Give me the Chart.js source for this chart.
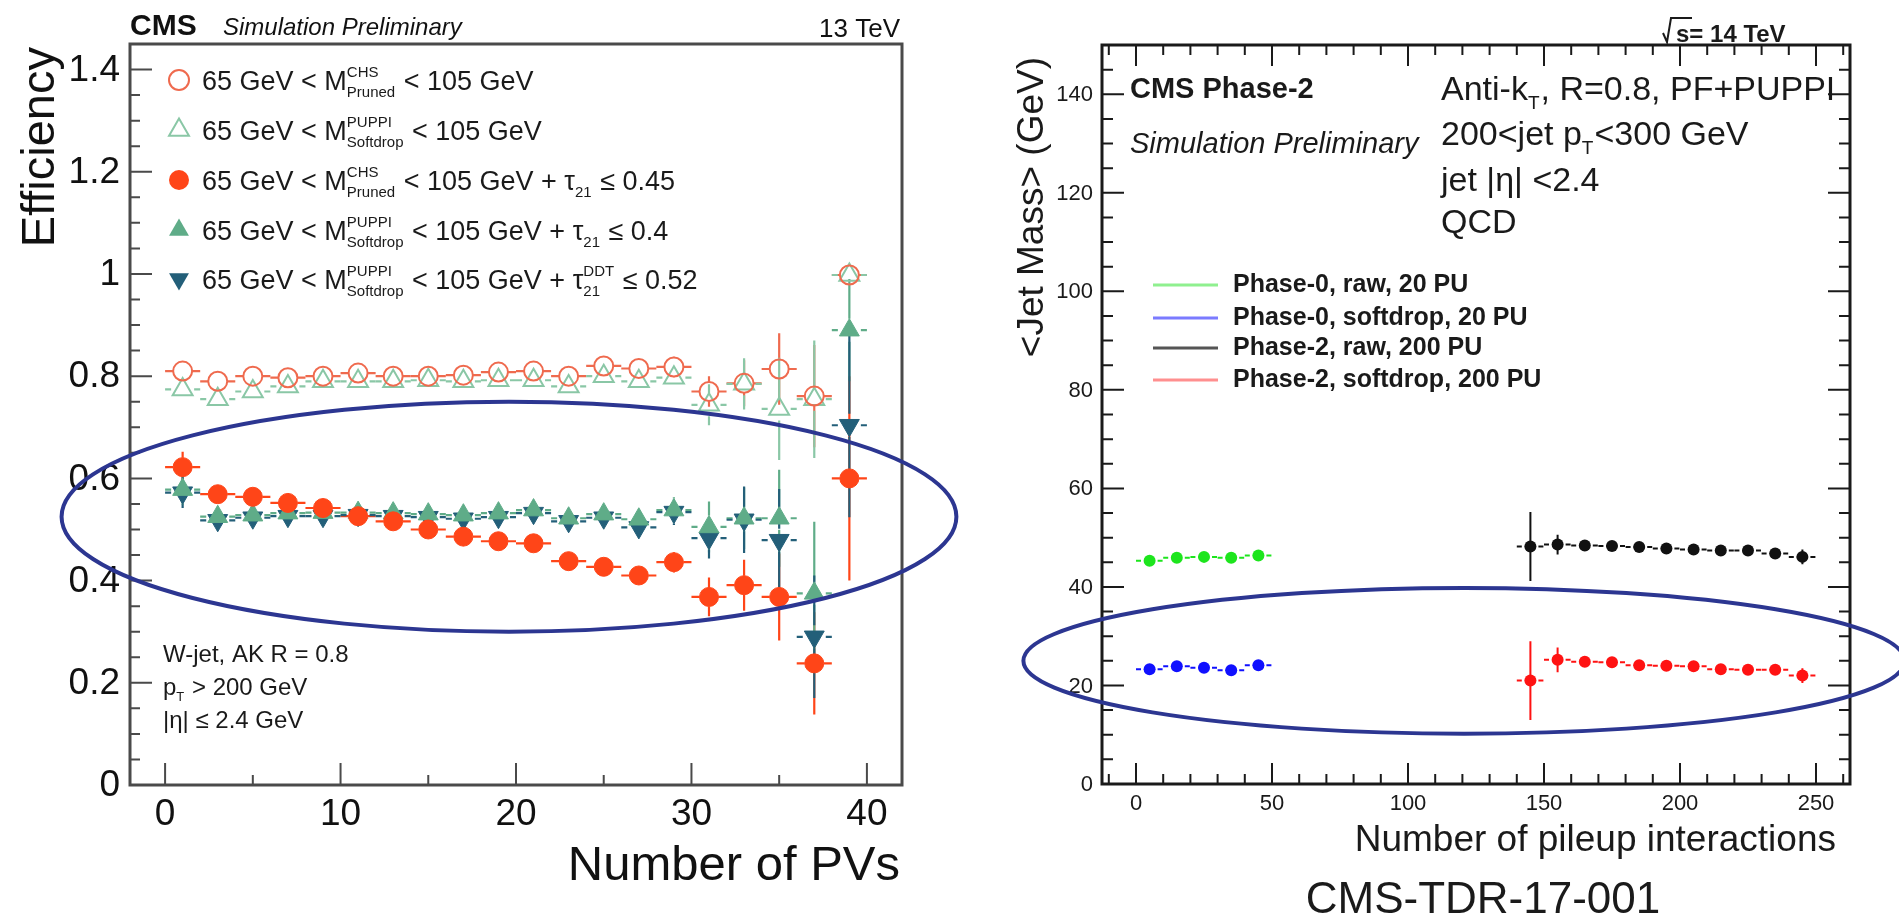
<!DOCTYPE html>
<html lang="en">
<head>
<meta charset="UTF-8">
<title>W-tagging efficiency and jet mass vs pileup</title>
<script src="https://cdn.jsdelivr.net/npm/chart.js"></script>
<style>
  body { margin: 0; background: #fff; width: 1899px; height: 919px; overflow: hidden; position: relative; }
  #effChart { position: absolute; left: 0; top: 0; }
  #massChart { position: absolute; left: 950px; top: 0; }
</style>
</head>
<body>
<canvas id="effChart" width="980" height="919"></canvas>
<canvas id="massChart" width="949" height="919"></canvas>
<script>
const FONT = '"Liberation Sans", Arial, Helvetica, sans-serif';

// ---- left panel: efficiency vs number of PVs ----
const pvBins = [1, 3, 5, 7, 9, 11, 13, 15, 17, 19, 21, 23, 25, 27, 29, 31, 33, 35, 37, 39];
const pvHalfWidth = 1;

const effPruned       = [0.810, 0.790, 0.800, 0.797, 0.800, 0.806, 0.800, 0.800, 0.802, 0.808, 0.810, 0.800, 0.820, 0.815, 0.818, 0.770, 0.786, 0.814, 0.761, 0.998];
const effPrunedErr    = [0.015, 0.010, 0.010, 0.010, 0.010, 0.010, 0.010, 0.010, 0.010, 0.010, 0.012, 0.012, 0.015, 0.015, 0.020, 0.030, 0.045, 0.070, 0.100, 0.000];
const effSoftdrop     = [0.774, 0.755, 0.770, 0.780, 0.790, 0.790, 0.790, 0.792, 0.790, 0.792, 0.792, 0.780, 0.800, 0.790, 0.797, 0.744, 0.785, 0.736, 0.755, 0.998];
const effSoftdropErr  = [0.015, 0.010, 0.010, 0.010, 0.010, 0.010, 0.010, 0.010, 0.010, 0.010, 0.010, 0.012, 0.012, 0.015, 0.020, 0.040, 0.050, 0.100, 0.115, 0.000];
const effPrunedTau    = [0.622, 0.569, 0.564, 0.552, 0.542, 0.526, 0.516, 0.500, 0.486, 0.477, 0.473, 0.438, 0.427, 0.410, 0.436, 0.368, 0.391, 0.368, 0.238, 0.600];
const effPrunedTauErr = [0.030, 0.010, 0.010, 0.010, 0.010, 0.010, 0.010, 0.010, 0.010, 0.012, 0.012, 0.012, 0.012, 0.015, 0.020, 0.038, 0.050, 0.085, 0.100, 0.200];
const effSoftTau      = [0.578, 0.525, 0.528, 0.532, 0.533, 0.533, 0.532, 0.530, 0.528, 0.532, 0.538, 0.522, 0.530, 0.520, 0.538, 0.505, 0.522, 0.522, 0.375, 0.890];
const effSoftTauErr   = [0.030, 0.010, 0.010, 0.010, 0.010, 0.010, 0.010, 0.010, 0.010, 0.012, 0.012, 0.012, 0.015, 0.015, 0.025, 0.050, 0.060, 0.095, 0.140, 0.100];
const effSoftDDT      = [0.572, 0.518, 0.523, 0.526, 0.526, 0.528, 0.526, 0.524, 0.521, 0.524, 0.532, 0.516, 0.523, 0.504, 0.534, 0.483, 0.519, 0.479, 0.290, 0.704];
const effSoftDDTErr   = [0.030, 0.010, 0.010, 0.010, 0.010, 0.010, 0.010, 0.010, 0.010, 0.012, 0.012, 0.012, 0.015, 0.015, 0.025, 0.040, 0.065, 0.100, 0.120, 0.180];

const effYTicks = [0, 0.2, 0.4, 0.6, 0.8, 1.0, 1.2, 1.4];
const effYTickLabels = ['0', '0.2', '0.4', '0.6', '0.8', '1', '1.2', '1.4'];
const pvTicks = [0, 10, 20, 30, 40];
const pvTickLabels = ['0', '10', '20', '30', '40'];

// highlight ring, in data units
const effRing = { x: 19.6, y: 0.525, rx: 25.5, ry: 0.225 };

// ---- right panel: <jet mass> vs number of pileup interactions ----
const puPhase0 = [5, 15, 25, 35, 45];
const puPhase2 = [145, 155, 165, 175, 185, 195, 205, 215, 225, 235, 245];
const puHalfWidth = 5;

const massRawPh0     = [45.3, 45.9, 46.1, 45.9, 46.4];
const massRawPh0Err  = [0.6, 0.6, 0.6, 0.6, 0.6];
const massSdPh0      = [23.3, 23.9, 23.6, 23.1, 24.1];
const massSdPh0Err   = [0.6, 0.6, 0.6, 0.6, 0.6];
const massRawPh2     = [48.2, 48.6, 48.4, 48.3, 48.1, 47.8, 47.6, 47.4, 47.4, 46.8, 46.1];
const massRawPh2Err  = [7.0, 2.0, 1.0, 1.0, 0.8, 0.8, 0.8, 0.8, 1.0, 1.0, 1.5];
const massSdPh2      = [21.0, 25.2, 24.8, 24.7, 24.1, 24.0, 23.9, 23.3, 23.2, 23.2, 22.0];
const massSdPh2Err   = [8.0, 2.5, 1.0, 1.0, 0.8, 0.8, 0.8, 0.8, 1.0, 1.0, 1.5];

const massYTicks = [0, 20, 40, 60, 80, 100, 120, 140];
const massYTickLabels = ['0', '20', '40', '60', '80', '100', '120', '140'];
const puTicks = [0, 50, 100, 150, 200, 250];
const puTickLabels = ['0', '50', '100', '150', '200', '250'];

const massRing = { x: 120.6, y: 25.0, rx: 162, ry: 14.8 };

// ---- helpers ----
function font(size, style) { return (style || '') + ' ' + size + 'px ' + FONT; }

function pts(xs, ys) { return xs.map((x, i) => ({ x: x, y: ys[i] })); }

// text with stacked super/subscripts: parts are strings or {sup, sub}
function richText(ctx, x, y, parts, size, style) {
  const small = Math.round(size * 0.56);
  let cx = x;
  ctx.textAlign = 'left';
  ctx.textBaseline = 'alphabetic';
  parts.forEach(p => {
    if (typeof p === 'string') {
      ctx.font = font(size, style);
      ctx.fillText(p, cx, y);
      cx += ctx.measureText(p).width;
    } else {
      ctx.font = font(small, style);
      let w = 0;
      if (p.sup) { ctx.fillText(p.sup, cx, y - size * 0.5); w = Math.max(w, ctx.measureText(p.sup).width); }
      if (p.sub) { ctx.fillText(p.sub, cx, y + size * 0.27); w = Math.max(w, ctx.measureText(p.sub).width); }
      cx += w + 1;
    }
  });
  return cx;
}

function marker(ctx, shape, x, y, r, color, filled) {
  ctx.beginPath();
  if (shape === 'circle') {
    ctx.arc(x, y, r, 0, Math.PI * 2);
  } else {
    const s = shape === 'triangleDown' ? -1 : 1;
    ctx.moveTo(x, y - s * r);
    ctx.lineTo(x + r * 0.866, y + s * r * 0.5);
    ctx.lineTo(x - r * 0.866, y + s * r * 0.5);
    ctx.closePath();
  }
  if (filled) { ctx.fillStyle = color; ctx.fill(); }
  else { ctx.strokeStyle = color; ctx.lineWidth = 2; ctx.stroke(); }
}

function ring(ctx, xs, ys, r) {
  const cx = xs.getPixelForValue(r.x), cy = ys.getPixelForValue(r.y);
  const rx = xs.getPixelForValue(r.x + r.rx) - cx;
  const ry = cy - ys.getPixelForValue(r.y + r.ry);
  ctx.save();
  ctx.strokeStyle = '#2c3691';
  ctx.lineWidth = 4;
  ctx.beginPath();
  ctx.ellipse(cx, cy, rx, ry, 0, 0, Math.PI * 2);
  ctx.stroke();
  ctx.restore();
}

// error bars, drawn under the markers; the bars stop at the marker edge
const errorBars = {
  id: 'errorBars',
  beforeDatasetsDraw(chart) {
    const { ctx, scales: { x, y } } = chart;
    chart.data.datasets.forEach(ds => {
      const gap = ds.barGap || 0;
      ctx.save();
      ctx.strokeStyle = ds.barColor || ds.borderColor;
      ctx.lineWidth = ds.barWidth || 2;
      ctx.setLineDash(ds.barDash || []);
      ds.data.forEach((p, i) => {
        const px = x.getPixelForValue(p.x), py = y.getPixelForValue(p.y);
        const xl = x.getPixelForValue(p.x - ds.errX), xr = x.getPixelForValue(p.x + ds.errX);
        const yt = y.getPixelForValue(p.y + ds.errY[i]), yb = y.getPixelForValue(p.y - ds.errY[i]);
        ctx.beginPath();
        ctx.moveTo(xl, py); ctx.lineTo(px - gap, py);
        ctx.moveTo(px + gap, py); ctx.lineTo(xr, py);
        ctx.stroke();
        ctx.setLineDash([]);
        if (py - yt > gap) {
          ctx.beginPath();
          ctx.moveTo(px, yt); ctx.lineTo(px, py - gap);
          ctx.moveTo(px, py + gap); ctx.lineTo(px, yb);
          ctx.stroke();
        }
        ctx.setLineDash(ds.barDash || []);
      });
      ctx.restore();
    });
  }
};

// ---- left chart ----
const M = (sup, sub) => ({ sup: sup, sub: sub });
const effSeries = [
  { values: effPruned, errors: effPrunedErr, shape: 'circle', filled: false, color: '#ef6a4e',
    label: ['65 GeV < M', M('CHS', 'Pruned'), ' < 105 GeV'] },
  { values: effSoftdrop, errors: effSoftdropErr, shape: 'triangle', filled: false, color: '#8ac7a6',
    label: ['65 GeV < M', M('PUPPI', 'Softdrop'), ' < 105 GeV'] },
  { values: effPrunedTau, errors: effPrunedTauErr, shape: 'circle', filled: true, color: '#ff4518',
    label: ['65 GeV < M', M('CHS', 'Pruned'), ' < 105 GeV + \u03c4', M('', '21'), ' \u2264 0.45'] },
  { values: effSoftTau, errors: effSoftTauErr, shape: 'triangle', filled: true, color: '#5fac88',
    label: ['65 GeV < M', M('PUPPI', 'Softdrop'), ' < 105 GeV + \u03c4', M('', '21'), ' \u2264 0.4'] },
  { values: effSoftDDT, errors: effSoftDDTErr, shape: 'triangleDown', filled: true, color: '#235f79',
    label: ['65 GeV < M', M('PUPPI', 'Softdrop'), ' < 105 GeV + \u03c4', M('DDT', '21'), ' \u2264 0.52'] }
];

const effDatasets = effSeries.map(s => {
  const r = s.shape === 'circle' ? 9.5 : 11.5;
  return {
    label: s.label.filter(p => typeof p === 'string').join(''),
    data: pts(pvBins, s.values),
    errY: s.errors,
    errX: pvHalfWidth,
    barGap: r,
    barWidth: 2.2,
    pointStyle: s.shape === 'circle' ? 'circle' : 'triangle',
    rotation: s.shape === 'triangleDown' ? 180 : 0,
    pointRadius: r,
    borderColor: s.color,
    backgroundColor: s.filled ? s.color : 'rgba(0,0,0,0)',
    borderWidth: s.filled ? 1 : 2
  };
});

const effDecor = {
  id: 'effDecor',
  afterDraw(chart) {
    const { ctx, chartArea: a, scales: { x, y } } = chart;
    ctx.save();
    ctx.strokeStyle = '#4a4a4a';
    ctx.lineWidth = 3;
    ctx.strokeRect(a.left, a.top, a.right - a.left, a.bottom - a.top);
    ctx.lineWidth = 2;
    ctx.beginPath();
    for (let k = 0; k <= 29; k++) {
      const py = y.getPixelForValue(k * 0.05);
      ctx.moveTo(a.left, py); ctx.lineTo(a.left + (k % 4 === 0 ? 22 : 10), py);
    }
    for (let v = 0; v <= 40; v += 5) {
      const px = x.getPixelForValue(v);
      ctx.moveTo(px, a.bottom); ctx.lineTo(px, a.bottom - (v % 10 === 0 ? 22 : 10));
    }
    ctx.stroke();

    ctx.fillStyle = '#111';
    ctx.font = font(37);
    ctx.textAlign = 'right';
    ctx.textBaseline = 'middle';
    effYTicks.forEach((v, i) => ctx.fillText(effYTickLabels[i], a.left - 10, y.getPixelForValue(v) + 1));
    ctx.textAlign = 'center';
    ctx.textBaseline = 'alphabetic';
    pvTicks.forEach((v, i) => ctx.fillText(pvTickLabels[i], x.getPixelForValue(v), a.bottom + 40));

    // axis titles
    ctx.font = font(49);
    ctx.textAlign = 'right';
    ctx.fillText('Number of PVs', 900, 880);
    ctx.save();
    ctx.translate(54, 47);
    ctx.rotate(-Math.PI / 2);
    ctx.font = font(47);
    ctx.textAlign = 'right';
    ctx.fillText('Efficiency', 0, 0);
    ctx.restore();

    // header
    ctx.textAlign = 'left';
    ctx.font = font(30, 'bold');
    ctx.fillText('CMS', 130, 35);
    ctx.font = font(24, 'italic');
    ctx.fillText('Simulation Preliminary', 223, 35);
    ctx.font = font(26);
    ctx.textAlign = 'right';
    ctx.fillText('13 TeV', 900, 37);

    // legend
    const rows = [80, 130, 180, 230, 279];
    effSeries.forEach((s, i) => {
      marker(ctx, s.shape, 179, rows[i], s.shape === 'circle' ? 10 : 11.5, s.color, s.filled);
      ctx.fillStyle = '#1a1a1a';
      richText(ctx, 202, rows[i] + 10, s.label, 27);
    });

    // selection text
    ctx.fillStyle = '#1a1a1a';
    richText(ctx, 163, 662, ['W-jet, AK R = 0.8'], 24);
    richText(ctx, 163, 695, ['p', M('', 'T'), ' > 200 GeV'], 24);
    richText(ctx, 163, 728, ['|\u03b7| \u2264 2.4 GeV'], 24);
    ctx.restore();

    ring(ctx, x, y, effRing);
  }
};

new Chart(document.getElementById('effChart'), {
  type: 'scatter',
  data: { datasets: effDatasets },
  options: {
    responsive: false,
    animation: false,
    devicePixelRatio: 1,
    events: [],
    layout: { padding: { left: 130, right: 78, top: 44, bottom: 134 } },
    scales: {
      x: { type: 'linear', min: -2, max: 42, display: false },
      y: { type: 'linear', min: 0, max: 1.45, display: false }
    },
    plugins: { legend: { display: false }, tooltip: { enabled: false } }
  },
  plugins: [errorBars, effDecor]
});

// ---- right chart ----
const massSeries = [
  { label: 'Phase-0, raw, 20 PU', xs: puPhase0, values: massRawPh0, errors: massRawPh0Err, color: '#1de51d', legendColor: '#8ff08f' },
  { label: 'Phase-0, softdrop, 20 PU', xs: puPhase0, values: massSdPh0, errors: massSdPh0Err, color: '#1010ff', legendColor: '#7b7bff' },
  { label: 'Phase-2, raw, 200 PU', xs: puPhase2, values: massRawPh2, errors: massRawPh2Err, color: '#111111', legendColor: '#555555' },
  { label: 'Phase-2, softdrop, 200 PU', xs: puPhase2, values: massSdPh2, errors: massSdPh2Err, color: '#ff1212', legendColor: '#ff8f8f' }
];

const massDatasets = massSeries.map(s => ({
  label: s.label,
  data: pts(s.xs, s.values),
  errY: s.errors,
  errX: puHalfWidth,
  barGap: 0,
  barWidth: 2,
  barDash: [5, 3],
  pointStyle: 'circle',
  pointRadius: 6,
  borderColor: s.color,
  backgroundColor: s.color,
  borderWidth: 0
}));

const massDecor = {
  id: 'massDecor',
  afterDraw(chart) {
    const { ctx, chartArea: a, scales: { x, y } } = chart;
    ctx.save();
    ctx.strokeStyle = '#1a1a1a';
    ctx.lineWidth = 3;
    ctx.strokeRect(a.left, a.top, a.right - a.left, a.bottom - a.top);
    ctx.lineWidth = 2;
    ctx.beginPath();
    for (let k = 0; k <= 30; k++) {
      const py = y.getPixelForValue(k * 5);
      const len = k % 4 === 0 ? 22 : 11;
      ctx.moveTo(a.left, py); ctx.lineTo(a.left + len, py);
      ctx.moveTo(a.right, py); ctx.lineTo(a.right - len, py);
    }
    for (let v = -10; v <= 260; v += 10) {
      const px = x.getPixelForValue(v);
      const len = v % 50 === 0 ? 21 : 10;
      ctx.moveTo(px, a.bottom); ctx.lineTo(px, a.bottom - len);
      ctx.moveTo(px, a.top); ctx.lineTo(px, a.top + len);
    }
    ctx.stroke();

    ctx.fillStyle = '#1a1a1a';
    ctx.font = font(22);
    ctx.textAlign = 'right';
    ctx.textBaseline = 'middle';
    massYTicks.forEach((v, i) => ctx.fillText(massYTickLabels[i], a.left - 9, y.getPixelForValue(v) + 1));
    ctx.textAlign = 'center';
    ctx.textBaseline = 'alphabetic';
    puTicks.forEach((v, i) => ctx.fillText(puTickLabels[i], x.getPixelForValue(v), a.bottom + 26));

    // axis titles
    ctx.font = font(37);
    ctx.textAlign = 'right';
    ctx.fillText('Number of pileup interactions', 886, 851);
    ctx.save();
    ctx.translate(93, 57);
    ctx.rotate(-Math.PI / 2);
    ctx.textAlign = 'right';
    ctx.fillText('<Jet Mass> (GeV)', 0, 0);
    ctx.restore();
    ctx.font = font(44);
    ctx.textAlign = 'center';
    ctx.fillText('CMS-TDR-17-001', 533, 913);

    // sqrt(s) label on the frame
    ctx.strokeStyle = '#1a1a1a';
    ctx.lineWidth = 2;
    ctx.beginPath();
    ctx.moveTo(713, 33); ctx.lineTo(717, 42); ctx.lineTo(721, 18); ctx.lineTo(742, 18);
    ctx.stroke();
    ctx.textAlign = 'left';
    ctx.font = font(24, 'bold');
    ctx.fillText('s= 14 TeV', 726, 42);

    // header and cuts
    ctx.font = font(29, 'bold');
    ctx.fillText('CMS Phase-2', 180, 98);
    ctx.font = font(29, 'italic');
    ctx.fillText('Simulation Preliminary', 180, 153);
    richText(ctx, 491, 100, ['Anti-k', M('', 'T'), ', R=0.8, PF+PUPPI'], 34);
    richText(ctx, 491, 145, ['200<jet p', M('', 'T'), '<300 GeV'], 34);
    richText(ctx, 491, 191, ['jet |\u03b7| <2.4'], 34);
    richText(ctx, 491, 233, ['QCD'], 34);

    // legend
    const rows = [285, 318, 348, 380];
    massSeries.forEach((s, i) => {
      ctx.strokeStyle = s.legendColor;
      ctx.lineWidth = 3;
      ctx.beginPath();
      ctx.moveTo(203, rows[i]); ctx.lineTo(268, rows[i]);
      ctx.stroke();
      ctx.fillStyle = '#1a1a1a';
      ctx.font = font(25, 'bold');
      ctx.fillText(s.label, 283, rows[i] + 7);
    });
    ctx.restore();

    ring(ctx, x, y, massRing);
  }
};

new Chart(document.getElementById('massChart'), {
  type: 'scatter',
  data: { datasets: massDatasets },
  options: {
    responsive: false,
    animation: false,
    devicePixelRatio: 1,
    events: [],
    layout: { padding: { left: 152, right: 49, top: 45, bottom: 135 } },
    scales: {
      x: { type: 'linear', min: -12.5, max: 262.5, display: false },
      y: { type: 'linear', min: 0, max: 150, display: false }
    },
    plugins: { legend: { display: false }, tooltip: { enabled: false } }
  },
  plugins: [errorBars, massDecor]
});
</script>
</body>
</html>
